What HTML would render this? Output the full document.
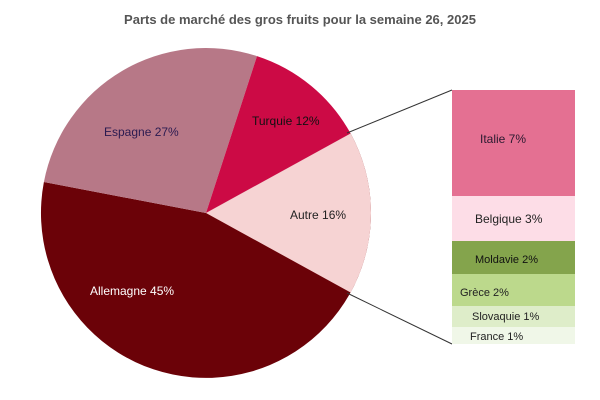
<!DOCTYPE html>
<html><head><style>body{margin:0;background:#fff}svg{display:block}text{font-family:"Liberation Sans",sans-serif}</style></head>
<body>
<svg width="600" height="400" viewBox="0 0 600 400">
<text x="300" y="24" text-anchor="middle" font-size="13" font-weight="bold" fill="#555">Parts de marché des gros fruits pour la semaine 26, 2025</text>
<path d="M206,213 L350.6,133.5 A165,165 0 1 1 43.9,182.0 Z" fill="#6b0208"/>
<path d="M206,213 L43.9,182.0 A165,165 0 0 1 257.0,56.1 Z" fill="#b77887"/>
<path d="M206,213 L257.0,56.1 A165,165 0 0 1 350.6,133.5 Z" fill="#cc0a45"/>
<path d="M206,213 L350.6,133.5 A165,165 0 0 1 350.6,292.5 Z" fill="#f6d3d3"/>
<line x1="347" y1="133" x2="452" y2="90" stroke="#333" stroke-width="1"/>
<line x1="347" y1="293" x2="452" y2="344" stroke="#333" stroke-width="1"/>
<rect x="452" y="90" width="123" height="106" fill="#e47092"/>
<rect x="452" y="196" width="123" height="45" fill="#fddde7"/>
<rect x="452" y="241" width="123" height="33" fill="#84a44c"/>
<rect x="452" y="274" width="123" height="32" fill="#bcd98c"/>
<rect x="452" y="306" width="123" height="21" fill="#deedc9"/>
<rect x="452" y="327" width="123" height="17" fill="#f0f7e8"/>
<g font-size="12">
<text x="104" y="136" fill="#2a1a50">Espagne 27%</text>
<text x="252" y="125" fill="#111">Turquie 12%</text>
<text x="290" y="219" fill="#222">Autre 16%</text>
<text x="90" y="295" fill="#fff">Allemagne 45%</text>
<text x="480" y="143" fill="#2a1a30">Italie 7%</text>
<text x="475" y="223" fill="#222">Belgique 3%</text>
<text x="475" y="263" font-size="11" fill="#111">Moldavie 2%</text>
<text x="460" y="296" font-size="11" fill="#222">Grèce 2%</text>
<text x="472" y="320" font-size="11" fill="#222">Slovaquie 1%</text>
<text x="470" y="340" font-size="11" fill="#222">France 1%</text>
</g>
</svg>
</body></html>
